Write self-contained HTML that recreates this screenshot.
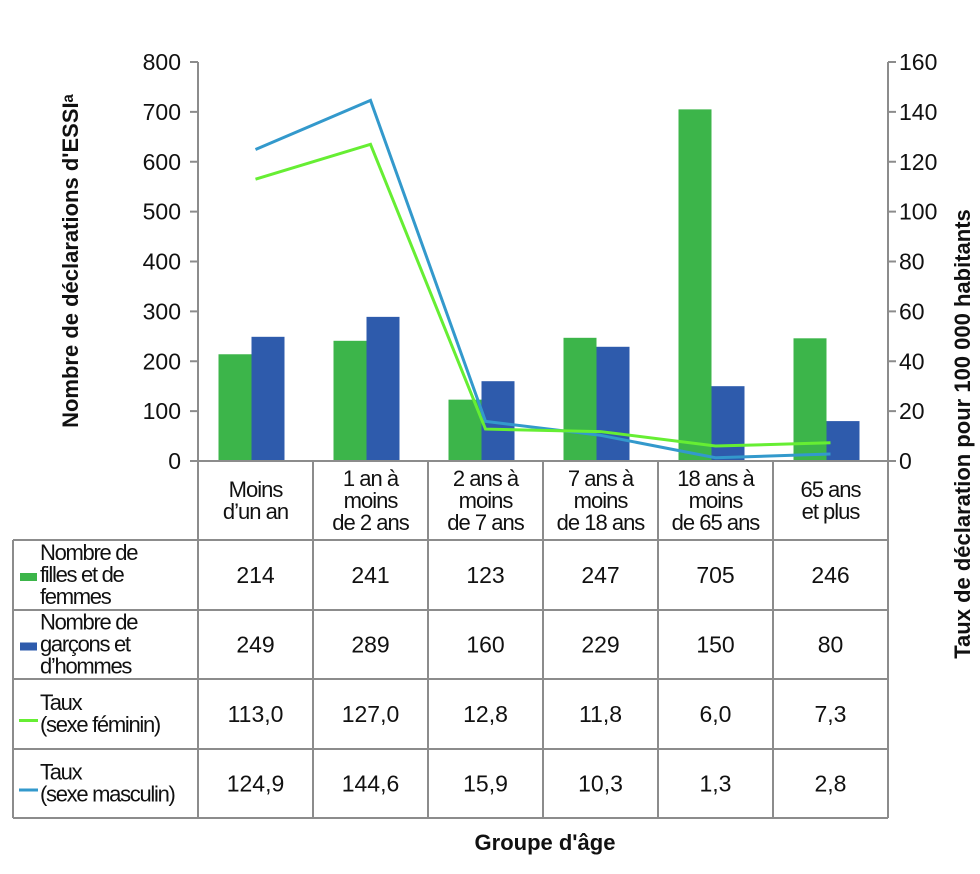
<!DOCTYPE html>
<html><head><meta charset="utf-8"><style>
body{margin:0;background:#fff;width:980px;height:869px;overflow:hidden;font-family:"Liberation Sans",sans-serif}
svg text{font-family:"Liberation Sans",sans-serif;fill:#111}
</style></head><body>
<svg id="c" width="980" height="869"></svg>
<script>
const categories=[["Moins","d’un an"],["1 an à","moins","de 2 ans"],["2 ans à","moins","de 7 ans"],["7 ans à","moins","de 18 ans"],["18 ans à","moins","de 65 ans"],["65 ans","et plus"]];
const girls=[214,241,123,247,705,246];
const boys=[249,289,160,229,150,80];
const rateF=[113.0,127.0,12.8,11.8,6.0,7.3];
const rateM=[124.9,144.6,15.9,10.3,1.3,2.8];
const leftTicks=[0,100,200,300,400,500,600,700,800];
const rightTicks=[0,20,40,60,80,100,120,140,160];
const rowLabels=[["Nombre de","filles et de","femmes"],["Nombre de","garçons et","d’hommes"],["Taux","(sexe féminin)"],["Taux","(sexe masculin)"]];

const svg=document.getElementById('c');const NS='http://www.w3.org/2000/svg';
function mk(t,a,txt){const e=document.createElementNS(NS,t);for(const k in a)e.setAttribute(k,a[k]);if(txt!==undefined)e.textContent=txt;svg.appendChild(e);return e;}
const X0=198,X1=888,Y0=461,Y1=62,W=(X1-X0)/6;
const yL=v=>Y0-(v/800)*(Y0-Y1);
const yR=v=>Y0-(v/160)*(Y0-Y1);
const xc=i=>X0+W*(i+0.5);
const grey='#8c8c8c';
let e=mk('line',{x1:X0,y1:Y1,x2:X0,y2:Y0,stroke:grey,'stroke-width':2});

e=mk('line',{x1:X1,y1:Y1,x2:X1,y2:Y0,stroke:grey,'stroke-width':2});

leftTicks.forEach(v=>{mk('line',{x1:X0-8,x2:X0,y1:yL(v),y2:yL(v),stroke:grey,'stroke-width':2});
 e=mk('text',{x:X0-17,y:yL(v)+8,'text-anchor':'end','font-size':23},v);
 });
rightTicks.forEach(v=>{mk('line',{x1:X1,x2:X1+8,y1:yR(v),y2:yR(v),stroke:grey,'stroke-width':2});
 e=mk('text',{x:X1+11,y:yR(v)+8,'font-size':23},v);
 });
const bw=33;
girls.forEach((v,i)=>{e=mk('rect',{x:xc(i)-bw-4,y:yL(v),width:bw,height:Y0-yL(v),fill:'#3cb54a'});
 });
boys.forEach((v,i)=>{e=mk('rect',{x:xc(i)-4,y:yL(v),width:bw,height:Y0-yL(v),fill:'#2e5bac'});
 });
e=mk('polyline',{points:rateM.map((v,i)=>xc(i)+','+yR(v)).join(' '),fill:'none',stroke:'#3399cc','stroke-width':3});

e=mk('polyline',{points:rateF.map((v,i)=>xc(i)+','+yR(v)).join(' '),fill:'none',stroke:'#66ee33','stroke-width':3});

const rows=[461,540,610,679,749,818];
mk('line',{x1:X0,x2:X1,y1:Y0,y2:Y0,stroke:grey,'stroke-width':2});
for(let r=1;r<rows.length;r++)mk('line',{x1:13,x2:X1,y1:rows[r],y2:rows[r],stroke:grey,'stroke-width':2});
mk('line',{x1:13,x2:13,y1:540,y2:818,stroke:grey,'stroke-width':2});
for(let c=0;c<=6;c++)mk('line',{x1:X0+W*c,x2:X0+W*c,y1:461,y2:818,stroke:grey,'stroke-width':2});
categories.forEach((lines,i)=>{const lh=22,st=500-(lines.length-1)*lh/2+8;
 lines.forEach((t,k)=>{e=mk('text',{x:xc(i),y:st+k*lh,'text-anchor':'middle','font-size':22,'letter-spacing':'-1'},t);
 });});
const tableData=[girls,boys,rateF.map(v=>v.toFixed(1).replace('.',',')),rateM.map(v=>v.toFixed(1).replace('.',','))];
const swatch=['#3cb54a','#2e5bac','#66ee33','#3399cc'];
tableData.forEach((arr,r)=>{const cy=(rows[r+1]+rows[r+2])/2;
 arr.forEach((v,i)=>{e=mk('text',{x:xc(i),y:cy+8,'text-anchor':'middle','font-size':23},v);
  });
 const lines=rowLabels[r];const lh=22;const st=cy-(lines.length-1)*lh/2+7;
 lines.forEach((t,k)=>{e=mk('text',{x:40,y:st+k*lh,'font-size':22,'letter-spacing':'-1.3'},t);
  });
 if(r<2){e=mk('rect',{x:20,y:cy-2,width:17,height:8,fill:swatch[r]});}
 else{e=mk('rect',{x:19,y:cy+5,width:19,height:3,fill:swatch[r]});}
 });
e=mk('text',{x:0,y:0,'font-size':22,'font-weight':'bold','text-anchor':'middle',transform:'translate(78,261) rotate(-90)'},'Nombre de déclarations d\'ESSIᵃ');

e=mk('text',{x:0,y:0,'font-size':22,'font-weight':'bold','text-anchor':'middle',transform:'translate(970,434) rotate(-90)'},'Taux de déclaration pour 100 000 habitants');

e=mk('text',{x:545,y:850,'font-size':22,'font-weight':'bold','text-anchor':'middle'},'Groupe d\'âge');

</script>
</body></html>
